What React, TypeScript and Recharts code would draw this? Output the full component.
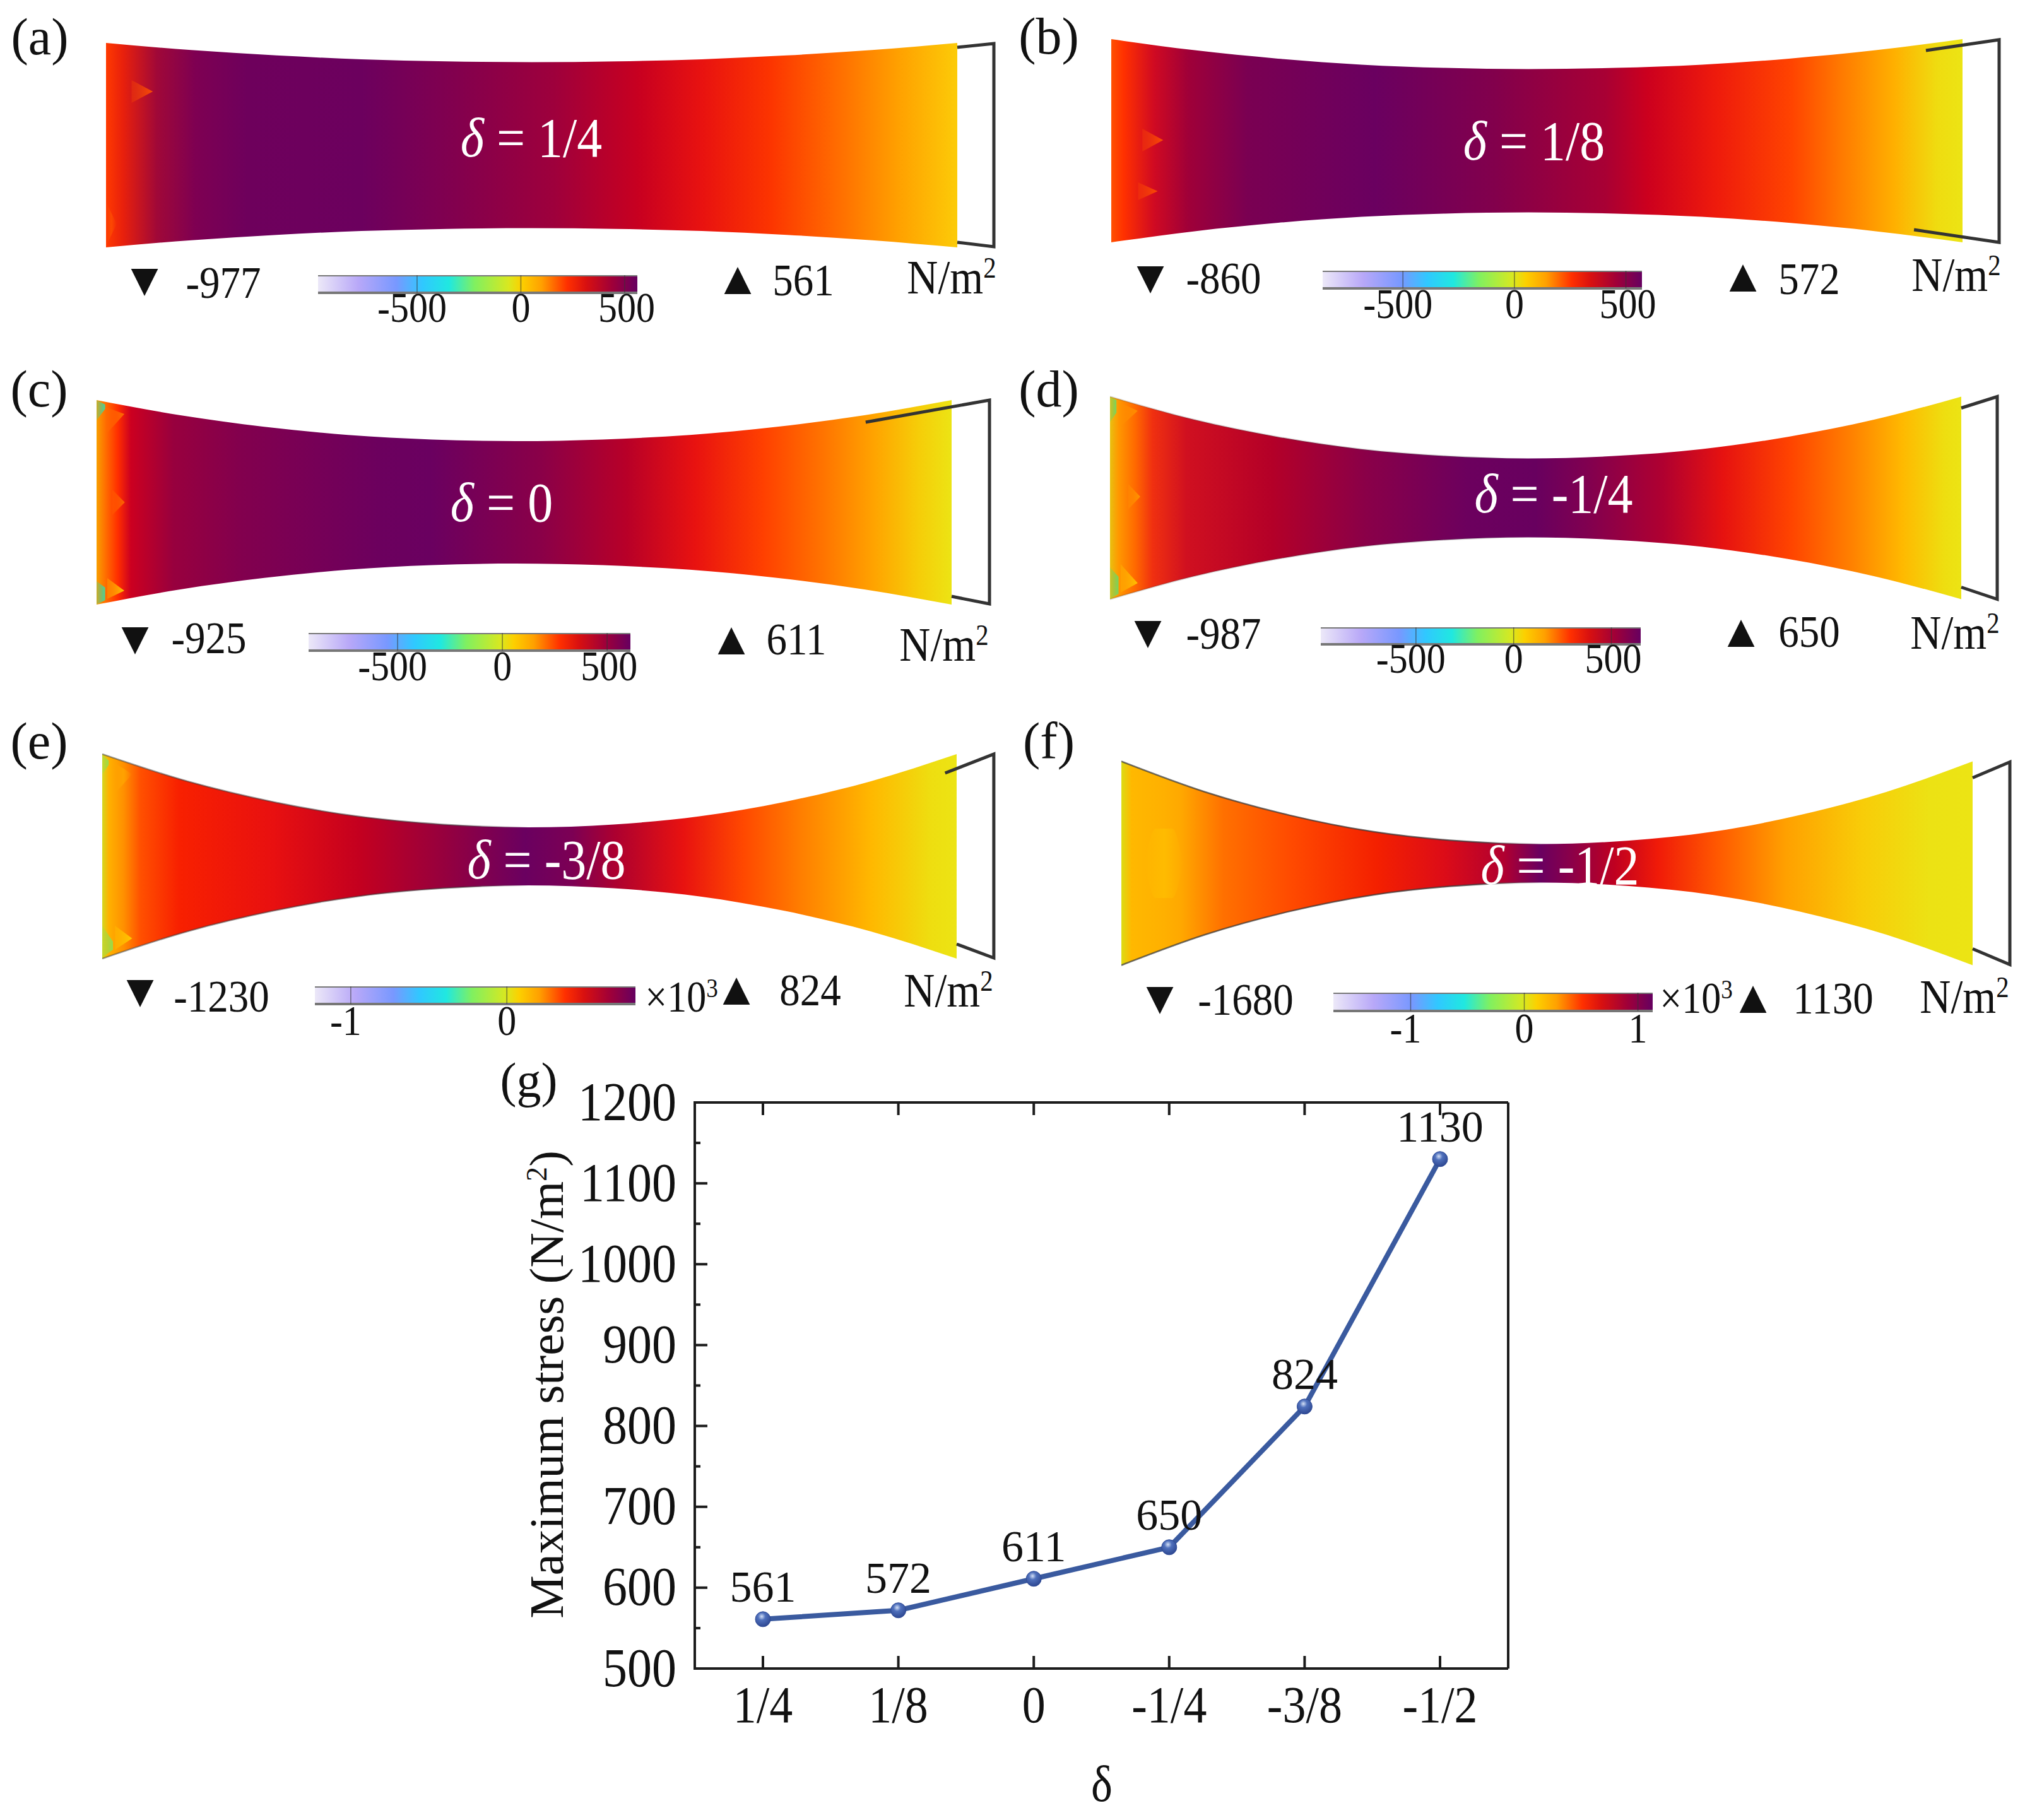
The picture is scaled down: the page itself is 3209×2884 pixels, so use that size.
import { Area, ComposedChart, Line, LineChart, LabelList, ReferenceLine, XAxis, YAxis } from 'recharts'

const serif = '"Liberation Serif", "Times New Roman", serif'

// line plot (g)
const deltaLabels = ['1/4', '1/8', '0', '-1/4', '-3/8', '-1/2']
const maxStress = [561, 572, 611, 650, 824, 1130]
const minStress = [-977, -860, -925, -987, -1230, -1680]
const stressTicks = [500, 550, 600, 650, 700, 750, 800, 850, 900, 950, 1000, 1050, 1100, 1150, 1200]

// beam half width at each station along the beam
const stations = [-1, -0.8, -0.6, -0.4, -0.2, 0, 0.2, 0.4, 0.6, 0.8, 1]
const halfA = [162, 150.7, 142.2, 136.1, 132.7, 131.5, 132.7, 136.1, 142.2, 150.7, 162]
const halfB = [161, 143.4, 130.1, 120.6, 115.4, 113.5, 115.4, 120.6, 130.1, 143.4, 161]
const halfC = [162, 138, 119.8, 106.8, 99.6, 97, 99.6, 106.8, 119.8, 138, 162]
const halfD = [160.5, 124.2, 96.8, 77.2, 66.4, 62.5, 66.4, 77.2, 96.8, 124.2, 160.5]
const halfE = [162, 119, 86.6, 63.4, 50.6, 46, 50.6, 63.4, 86.6, 119, 162]
const halfF = [161.5, 113, 76.4, 50.2, 35.7, 30.5, 35.7, 50.2, 76.4, 113, 161.5]

// support bracket at the right end of each beam
const bracketA = [[1, 155], [1.086, 161], [1.086, -161], [1, -154]]
const bracketB = [[0.914, 143], [1.086, 160], [1.086, -161], [0.886, -141]]
const bracketC = [[0.799, 127], [1.0886, 162], [1.0886, -161], [1, -149]]
const bracketD = [[1, 142.5], [1.0845, 160.5], [1.0845, -160.5], [1, -141.5]]
const bracketE = [[0.973, 132], [1.087, 162], [1.087, -161], [1, -139]]
const bracketF = [[1, 135.5], [1.0875, 160.5], [1.0875, -160.5], [1, -135.5]]

// stress colours along each beam
const stopsA = [[0, '#ff3a00'], [0.02, '#e8200c'], [0.06, '#a00838'], [0.105, '#7e0052'], [0.166, '#6e005c'], [0.3, '#6c005e'], [0.41, '#82004e'], [0.526, '#9e003c'], [0.626, '#c80020'], [0.7, '#e81210'], [0.78, '#fc3400'], [0.856, '#ff6a00'], [0.93, '#ffa000'], [1, '#fccb08']]
const stopsB = [[0, '#ff5000'], [0.015, '#ff3000'], [0.05, '#d00a22'], [0.09, '#a00038'], [0.16, '#7a0052'], [0.31, '#6a0060'], [0.45, '#82004c'], [0.58, '#a80034'], [0.63, '#cc001e'], [0.71, '#ee1a0c'], [0.8, '#ff4400'], [0.86, '#ff7c00'], [0.92, '#ffb000'], [0.97, '#efdc10'], [1, '#ece414']]
const stopsC = [[0, '#f8a000'], [0.01, '#ff7000'], [0.025, '#ff2e00'], [0.04, '#cc0020'], [0.09, '#98003e'], [0.17, '#82004e'], [0.33, '#6c005e'], [0.39, '#6a0060'], [0.52, '#8a0048'], [0.62, '#b80028'], [0.7, '#e81210'], [0.78, '#ff4000'], [0.85, '#ff7400'], [0.91, '#ffa400'], [0.96, '#f6cc08'], [1, '#ece414']]
const stopsD = [[0, '#e8c010'], [0.01, '#ff9800'], [0.03, '#ff6800'], [0.05, '#f03010'], [0.09, '#d01020'], [0.19, '#b40028'], [0.3, '#8a0048'], [0.42, '#6c005e'], [0.5, '#68005f'], [0.56, '#800050'], [0.65, '#b00030'], [0.72, '#e61210'], [0.8, '#ff4400'], [0.87, '#ff8000'], [0.93, '#ffb800'], [0.98, '#eede10'], [1, '#ece414']]
const stopsE = [[0, '#d4d820'], [0.008, '#ffb000'], [0.025, '#ff9000'], [0.045, '#ff5000'], [0.09, '#f82000'], [0.2, '#e81010'], [0.3, '#c4001f'], [0.4, '#96003e'], [0.495, '#6a0060'], [0.55, '#7c0054'], [0.6, '#ac0030'], [0.68, '#e81210'], [0.75, '#ff4800'], [0.82, '#ff8000'], [0.9, '#ffb800'], [0.97, '#eede10'], [1, '#ece414']]
const stopsF = [[0, '#dcdc14'], [0.012, '#ffb800'], [0.05, '#ffb000'], [0.07, '#ffa800'], [0.12, '#ff7000'], [0.2, '#ff4a00'], [0.3, '#f42000'], [0.38, '#dc0c18'], [0.45, '#b00030'], [0.492, '#6a0060'], [0.53, '#8c0048'], [0.58, '#c00020'], [0.63, '#f01a08'], [0.7, '#ff5800'], [0.78, '#ffa000'], [0.87, '#f8cc08'], [0.95, '#ece214'], [1, '#ece414']]
const stopsBar = [[0, '#ece8f8'], [0.126, '#b8a8f8'], [0.245, '#7898ff'], [0.327, '#30c8ff'], [0.41, '#20e8e0'], [0.49, '#80f060'], [0.596, '#d8e820'], [0.637, '#fcd000'], [0.7, '#ffa000'], [0.78, '#ff3000'], [0.84, '#d81010'], [0.92, '#a00038'], [1, '#660060']]

// small hot spots near the clamped end
const hotA = [
  { color: '#ff5000', points: [[-0.94, 67, 103], [-0.89, 85, 85]] },
  { color: '#ff5a00', points: [[-1, -160, -90], [-0.975, -125, -125]], fade: true },
]
const hotB = [
  { color: '#ff5000', points: [[-0.927, -17, 19], [-0.878, 1, 1]] },
  { color: '#ff5000', points: [[-0.937, -94, -66], [-0.891, -80, -80]] },
]
const hotC = [
  { color: '#ff6a00', points: [[-0.963, -20, 20], [-0.934, 0, 0]] },
  { color: '#ff7000', points: [[-0.975, 110, 150], [-0.935, 140, 140]] },
  { color: '#ffd000', points: [[-0.975, -153, -120], [-0.935, -140, -140]] },
  { color: '#40d8a0', points: [[-1, 130, 162], [-0.98, 148, 155]] },
  { color: '#40d8a0', points: [[-1, -162, -125], [-0.98, -155, -135]] },
]
const hotD = [
  { color: '#ff9800', points: [[-0.957, -18, 22], [-0.929, 2, 2]] },
  { color: '#ff9000', points: [[-0.98, 110, 152], [-0.935, 138, 138]] },
  { color: '#ffc800', points: [[-0.975, -150, -105], [-0.935, -135, -135]] },
  { color: '#70d860', points: [[-1, 120, 160], [-0.985, 135, 155]] },
  { color: '#70d860', points: [[-1, -160, -110], [-0.98, -152, -125]] },
]
const hotE = [
  { color: '#ffb000', points: [[-0.97, 100, 148], [-0.93, 130, 130]], fade: true },
  { color: '#ffd000', points: [[-0.97, -148, -110], [-0.93, -130, -130]] },
  { color: '#90e050', points: [[-1, -160, -110], [-0.975, -148, -135]] },
  { color: '#90e050', points: [[-1, 130, 160], [-0.985, 145, 152]] },
]
const hotF = [
  { color: '#ffc400', points: [[-0.945, 0, 0], [-0.92, -55, 55], [-0.88, -55, 55], [-0.855, 0, 0]], fade: true },
]

const barTicksA = [-500, 0, 500]
const barTicksE = [-1, 0]
const barTicksF = [-1, 0, 1]

const panels = [
  {
    id: 'a', delta: '1/4', half: halfA, stops: stopsA, bracket: bracketA, hot: hotA, edge: 0, x: 842.5, w: 674.5, y: 230, waist: 0,
    letter: [63, 59], deltaPos: [842, 218], down: [229, 443], minPos: [354, 448], up: [1169, 440], maxPos: [1273, 444], unit: [1508, 439],
    bar: { left: 504, right: 1010, top: 436, h: 28, ticks: barTicksA, k: 1, gap: 20 },
  },
  {
    id: 'b', delta: '1/8', half: halfB, stops: stopsB, bracket: bracketB, hot: hotB, edge: 0, x: 2435.5, w: 674.5, y: 223, waist: -0.02,
    letter: [1662, 58], deltaPos: [2431, 223], down: [1823, 439], minPos: [1939, 441], up: [2762, 436], maxPos: [2867, 442], unit: [3100, 435],
    bar: { left: 2096, right: 2602, top: 429, h: 28, ticks: barTicksA, k: 1, gap: 21 },
  },
  {
    id: 'c', delta: '0', half: halfC, stops: stopsC, bracket: bracketC, hot: hotC, edge: 0, x: 830.5, w: 677.5, y: 796, waist: -0.02,
    letter: [62, 617], deltaPos: [795, 796], down: [214, 1011], minPos: [331, 1011], up: [1159, 1011], maxPos: [1262, 1013], unit: [1496, 1021],
    bar: { left: 489, right: 999, top: 1003, h: 28, ticks: barTicksA, k: 1, gap: 21 },
  },
  {
    id: 'd', delta: '-1/4', half: halfD, stops: stopsD, bracket: bracketD, hot: hotD, edge: 0.2, x: 2433.5, w: 674.5, y: 788.5, waist: -0.018,
    letter: [1662, 617], deltaPos: [2462, 782], down: [1819, 1001], minPos: [1939, 1004], up: [2759, 999], maxPos: [2867, 1001], unit: [3098, 1002],
    bar: { left: 2093, right: 2600, top: 994, h: 27, ticks: barTicksA, k: 1, gap: 19 },
  },
  {
    id: 'e', delta: '-3/8', half: halfE, stops: stopsE, bracket: bracketE, hot: hotE, edge: 0.5, x: 839, w: 677, y: 1357, waist: -0.003,
    letter: [62, 1175], deltaPos: [866, 1362], down: [222, 1570], minPos: [351, 1579], up: [1167, 1566], maxPos: [1284, 1569], unit: [1503, 1569],
    bar: { left: 499, right: 1007, top: 1563, h: 28, ticks: barTicksE, k: 1000, gap: 23 }, power: [1080, 1579],
  },
  {
    id: 'f', delta: '-1/2', half: halfF, stops: stopsF, bracket: bracketF, hot: hotF, edge: 0.7, x: 2451.5, w: 674.5, y: 1367.5, waist: -0.015,
    letter: [1662, 1175], deltaPos: [2472, 1371], down: [1838, 1581], minPos: [1974, 1584], up: [2778, 1579], maxPos: [2905, 1582], unit: [3113, 1579],
    bar: { left: 2113, right: 2619, top: 1573, h: 29, ticks: barTicksF, k: 1000, gap: 24 }, power: [2688, 1581],
  },
]

function Txt({ at, size, color = '#111', font = serif, stretch = 1.12, children }: any) {
  return (
    <div
      style={{
        position: 'absolute',
        left: at[0],
        top: at[1],
        transform: `translate(-50%, -50%) scale(1, ${stretch})`,
        fontFamily: font,
        fontSize: size,
        lineHeight: 1,
        color,
        whiteSpace: 'nowrap',
      }}
    >
      {children}
    </div>
  )
}

function Sup({ children }: any) {
  return <span style={{ fontSize: '0.6em', verticalAlign: '0.55em', lineHeight: 0 }}>{children}</span>
}

function Gradient({ id, stops }: any) {
  return (
    <linearGradient id={id} x1="0" y1="0" x2="1" y2="0">
      {stops.map((s: any, i: number) => (
        <stop key={i} offset={s[0]} stopColor={s[1]} />
      ))}
    </linearGradient>
  )
}

function Beam({ p }: any) {
  const H = 175
  const table = stations.map((t, i) => ({
    t: t < 0 ? p.waist + t * (1 + p.waist) : p.waist + t * (1 - p.waist),
    band: [-p.half[i], p.half[i]],
  }))
  const frame = p.bracket.map((b: number[]) => ({ t: b[0], y: b[1] }))
  return (
    <div style={{ position: 'absolute', left: p.x - p.w, top: p.y - H }}>
      <ComposedChart width={p.w * 2.1} height={H * 2} data={table} margin={{ top: 0, right: 0, bottom: 0, left: 0 }}>
        <defs>
          <Gradient id={`beam-${p.id}`} stops={p.stops} />
          <linearGradient id={`edge-${p.id}`} x1="0" y1="0" x2="1" y2="0">
            <stop offset={0} stopColor="#333" stopOpacity={p.edge} />
            <stop offset={0.42} stopColor="#333" stopOpacity={p.edge} />
            <stop offset={0.5} stopColor="#333" stopOpacity={0} />
            <stop offset={1} stopColor="#333" stopOpacity={0} />
          </linearGradient>
          {p.hot.map((h: any, i: number) => (
            <linearGradient key={i} id={`hot-${p.id}-${i}`} x1="0" y1="0" x2="1" y2="0">
              <stop offset={0} stopColor={h.color} stopOpacity={h.fade ? 0 : 0.25} />
              <stop offset={0.5} stopColor={h.color} stopOpacity={h.fade ? 0.55 : 0.6} />
              <stop offset={1} stopColor={h.color} stopOpacity={h.fade ? 0 : 0.95} />
            </linearGradient>
          ))}
        </defs>
        <XAxis hide type="number" dataKey="t" domain={[-1, 1.1]} />
        <YAxis hide type="number" domain={[-H, H]} />
        <Area
          dataKey="band"
          type="monotone"
          fill={`url(#beam-${p.id})`}
          fillOpacity={1}
          stroke={`url(#edge-${p.id})`}
          strokeWidth={2.5}
          dot={false}
          activeDot={false}
          isAnimationActive={false}
        />
        {p.hot.map((h: any, i: number) => (
          <Area
            key={i}
            data={h.points.map((q: number[]) => ({ t: q[0], band: [q[1], q[2]] }))}
            dataKey="band"
            type={h.fade ? 'monotone' : 'linear'}
            fill={`url(#hot-${p.id}-${i})`}
            fillOpacity={1}
            stroke="none"
            dot={false}
            activeDot={false}
            isAnimationActive={false}
          />
        ))}
        <Line
          data={frame}
          dataKey="y"
          type="linear"
          stroke="#333"
          strokeWidth={5}
          dot={false}
          activeDot={false}
          isAnimationActive={false}
        />
      </ComposedChart>
    </div>
  )
}

function ColorBar({ p, index }: any) {
  const pad = 70
  const b = p.bar
  const lo = minStress[index] / b.k
  const hi = maxStress[index] / b.k
  const strip = [
    { v: lo, band: [0, 1] },
    { v: hi, band: [0, 1] },
  ]
  const tick = ({ x, y, payload }: any) => {
    const nudge = payload.value < 0 ? -8 : payload.value >= 500 ? 3 : 0
    return (
      <text
        transform={`translate(${x + nudge},${y + b.gap}) scale(1,1.12)`}
        dy="0.35em"
        textAnchor="middle"
        fontFamily={serif}
        fontSize={60}
        fill="#111"
      >
        {payload.value}
      </text>
    )
  }
  return (
    <div style={{ position: 'absolute', left: b.left - pad, top: b.top }}>
      <ComposedChart
        width={b.right - b.left + pad * 2}
        height={b.h + 70}
        data={strip}
        margin={{ top: 0, right: pad, bottom: 0, left: pad }}
      >
        <defs>
          <Gradient id={`bar-${p.id}`} stops={stopsBar} />
        </defs>
        <XAxis
          type="number"
          dataKey="v"
          domain={[lo, hi]}
          ticks={b.ticks}
          interval={0}
          height={70}
          tickSize={0}
          tickLine={false}
          axisLine={false}
          tick={tick}
        />
        <YAxis hide type="number" domain={[0, 1]} />
        <Area
          dataKey="band"
          type="linear"
          fill={`url(#bar-${p.id})`}
          fillOpacity={1}
          stroke="#777"
          strokeWidth={4}
          dot={false}
          activeDot={false}
          isAnimationActive={false}
        />
        {b.ticks.map((t: number) => (
          <ReferenceLine key={t} x={t} stroke="#333" strokeOpacity={0.6} strokeWidth={1.5} />
        ))}
      </ComposedChart>
    </div>
  )
}

const axisInk = '#1c1c1c'
const major = (v: number) => v % 100 === 0

function LeftTick({ x, y, payload }: any) {
  const len = major(payload.value) ? 22 : 11
  return (
    <g>
      <line x1={x} x2={x + len} y1={y} y2={y} stroke={axisInk} strokeWidth={4} />
      {major(payload.value) && (
        <text
          transform={`translate(${x - 27},${y - 3}) scale(1,1.12)`}
          dy="0.35em"
          textAnchor="end"
          fontFamily={serif}
          fontSize={78}
          fill="#111"
        >
          {payload.value}
        </text>
      )}
    </g>
  )
}

function RightTick({ x, y, payload }: any) {
  const len = major(payload.value) ? 22 : 11
  return <line x1={x} x2={x - len} y1={y} y2={y} stroke={axisInk} strokeWidth={4} />
}

function BottomTick({ x, y, payload }: any) {
  return (
    <g>
      <line x1={x} x2={x} y1={y} y2={y - 22} stroke={axisInk} strokeWidth={4} />
      <text
        transform={`translate(${x},${y + 54}) scale(1,1.12)`}
        dy="0.35em"
        textAnchor="middle"
        fontFamily={serif}
        fontSize={74}
        fill="#111"
      >
        {payload.value}
      </text>
    </g>
  )
}

function TopTick({ x, y }: any) {
  return <line x1={x} x2={x} y1={y} y2={y + 22} stroke={axisInk} strokeWidth={4} />
}

function StressChart() {
  const data = deltaLabels.map((delta, i) => ({ delta, stress: maxStress[i] }))
  return (
    <div style={{ position: 'absolute', left: 780, top: 1680 }}>
      <LineChart width={1660} height={1200} data={data} margin={{ top: 66, right: 40, bottom: 136, left: 121 }}>
        <defs>
          <radialGradient id="ball" cx="0.42" cy="0.32" r="0.7">
            <stop offset="0" stopColor="#d4e0f6" />
            <stop offset="0.35" stopColor="#4f70bc" />
            <stop offset="1" stopColor="#2c4690" />
          </radialGradient>
        </defs>
        <XAxis
          dataKey="delta"
          padding={{ left: 108, right: 108 }}
          interval={0}
          height={100}
          tickSize={0}
          tickLine={false}
          axisLine={{ stroke: axisInk, strokeWidth: 4 }}
          tick={BottomTick}
        />
        <XAxis
          xAxisId="top"
          orientation="top"
          dataKey="delta"
          padding={{ left: 108, right: 108 }}
          interval={0}
          height={1}
          tickSize={0}
          tickLine={false}
          axisLine={{ stroke: axisInk, strokeWidth: 4 }}
          tick={TopTick}
        />
        <YAxis
          type="number"
          domain={[500, 1200]}
          ticks={stressTicks}
          interval={0}
          width={200}
          tickSize={0}
          tickLine={false}
          axisLine={{ stroke: axisInk, strokeWidth: 4 }}
          tick={LeftTick}
        />
        <YAxis
          yAxisId="right"
          orientation="right"
          type="number"
          domain={[500, 1200]}
          ticks={stressTicks}
          interval={0}
          width={10}
          tickSize={0}
          tickLine={false}
          axisLine={{ stroke: axisInk, strokeWidth: 4 }}
          tick={RightTick}
        />
        <Line
          dataKey="stress"
          type="linear"
          stroke="#3a5a9f"
          strokeWidth={8}
          dot={{ r: 12, fill: 'url(#ball)', stroke: '#2e4a96', strokeWidth: 1 }}
          activeDot={false}
          isAnimationActive={false}
        >
          <LabelList dataKey="stress" position="top" offset={28} fontFamily={serif} fontSize={70} fill="#111" />
        </Line>
      </LineChart>
    </div>
  )
}

export default function App() {
  return (
    <div style={{ position: 'absolute', left: 0, top: 0, width: 3209, height: 2884, background: '#fff', overflow: 'hidden' }}>
      {panels.map((p, i) => (
        <div key={p.id}>
          <Beam p={p} />
          <ColorBar p={p} index={i} />
          <Txt at={p.letter} size={82} stretch={1}>({p.id})</Txt>
          <Txt at={p.deltaPos} size={80} color="#fff">
            <i>δ</i> = {p.delta}
          </Txt>
          <Txt at={p.down} size={56} font="DejaVu Sans" stretch={1}>▼</Txt>
          <Txt at={p.minPos} size={65}>{minStress[i]}</Txt>
          <Txt at={p.up} size={56} font="DejaVu Sans" stretch={1}>▲</Txt>
          <Txt at={p.maxPos} size={65}>{maxStress[i]}</Txt>
          <Txt at={p.unit} size={68}>N/m<Sup>2</Sup></Txt>
          {p.power && <Txt at={p.power} size={62}>×10<Sup>3</Sup></Txt>}
        </div>
      ))}
      <StressChart />
      <Txt at={[838, 1712]} size={78} stretch={1}>(g)</Txt>
      <div
        style={{
          position: 'absolute',
          left: 866,
          top: 2194,
          transform: 'translate(-50%, -50%) rotate(-90deg)',
          fontFamily: serif,
          fontSize: 77,
          lineHeight: 1,
          color: '#111',
          whiteSpace: 'nowrap',
        }}
      >
        Maximum stress (N/m<Sup>2</Sup>)
      </div>
      <Txt at={[1746, 2827]} size={72}>δ</Txt>
    </div>
  )
}
